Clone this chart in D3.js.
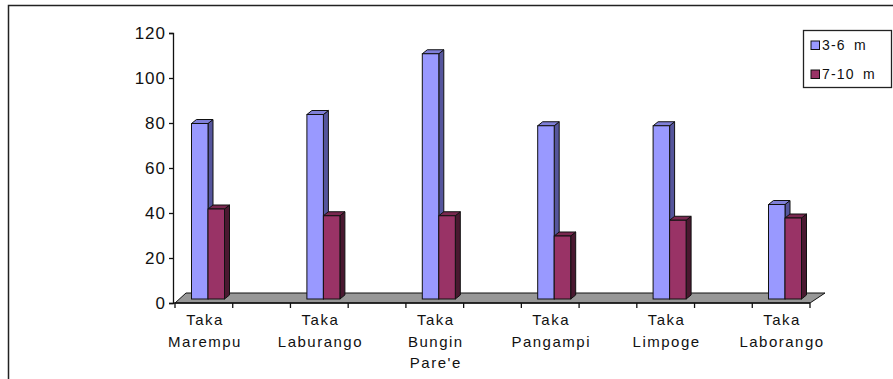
<!DOCTYPE html>
<html>
<head>
<meta charset="utf-8">
<script src="https://cdn.jsdelivr.net/npm/d3@7/dist/d3.min.js"></script>
<style>
  body { margin: 0; background: #fff; }
  svg text { font-family: "Liberation Sans", Arial, sans-serif; fill: #111; }
</style>
</head>
<body>
<svg id="chart" width="893" height="379"></svg>
<script>
var categories = ["Taka Marempu", "Taka Laburango", "Taka Bungin Pare'e", "Taka Pangampi", "Taka Limpoge", "Taka Laborango"];
var labelLines = [["Taka", "Marempu"], ["Taka", "Laburango"], ["Taka", "Bungin", "Pare'e"], ["Taka", "Pangampi"], ["Taka", "Limpoge"], ["Taka", "Laborango"]];
var seriesNames = ["3-6 m", "7-10 m"];
var shallow = [78, 82, 109, 77, 77, 42];
var deep = [40, 37, 37, 28, 35, 36];
var yTicks = [0, 20, 40, 60, 80, 100, 120];

var W = 893, H = 379;
var svg = d3.select('#chart');

var colors = {
  "3-6 m":  { front: '#9999ff', side: '#55559c', top: '#7f7fd8' },
  "7-10 m": { front: '#993366', side: '#4a1830', top: '#7a2850' }
};

// outer frame (runs off the right / bottom edge)
svg.append('rect')
  .attr('x', 8.5).attr('y', 5.5)
  .attr('width', 900).attr('height', 400)
  .attr('fill', 'none').attr('stroke', '#222').attr('stroke-width', 1.5);

var y = d3.scaleLinear().domain([0, 120]).range([303, 33]);
var x = d3.scaleBand().domain(categories).range([150.3, 842.7])
  .paddingInner(0.714).paddingOuter(0.357);
var xs = d3.scaleBand().domain(seriesNames).range([0, x.bandwidth()]);
var tickX = d3.scaleLinear().domain([0, 11]).range([175, 810]);

var dx = 5, dy = -4;       // bar depth
var lift = 4;              // bars sit back in the floor

// floor
svg.append('polygon')
  .attr('points', [[175, y(0)], [810, y(0)], [825, y(0) - 10], [186, y(0) - 10]].join(' '))
  .attr('fill', '#979797').attr('stroke', '#111').attr('stroke-width', 1);

// bars
var data = categories.map(function(c, i) {
  return { cat: c, vals: [{ s: seriesNames[0], v: shallow[i] }, { s: seriesNames[1], v: deep[i] }] };
});

var groups = svg.append('g').attr('class', 'bars')
  .selectAll('g').data(data).enter().append('g');

groups.each(function(d) {
  var g = d3.select(this);
  d.vals.forEach(function(b) {
    var x0 = x(d.cat) + xs(b.s), x1 = x0 + xs.bandwidth();
    var yt = y(b.v) - lift, yb = y(0) - lift;
    var c = colors[b.s];
    g.append('polygon')
      .attr('points', [[x1, yt], [x1 + dx, yt + dy], [x1 + dx, yb + dy], [x1, yb]].join(' '))
      .attr('fill', c.side).attr('stroke', '#111').attr('stroke-width', 1).attr('stroke-linejoin', 'round');
    g.append('polygon')
      .attr('points', [[x0, yt], [x0 + dx, yt + dy], [x1 + dx, yt + dy], [x1, yt]].join(' '))
      .attr('fill', c.top).attr('stroke', '#111').attr('stroke-width', 1).attr('stroke-linejoin', 'round');
    g.append('rect')
      .attr('x', x0).attr('y', yt)
      .attr('width', x1 - x0).attr('height', yb - yt)
      .attr('fill', c.front).attr('stroke', '#111').attr('stroke-width', 1);
  });
});

// y axis
var yAxis = d3.axisLeft(y).tickValues(yTicks).tickSize(4).tickPadding(3);
var ya = svg.append('g').attr('transform', 'translate(173,0)').call(yAxis);
ya.select('.domain').attr('stroke', '#111').attr('stroke-width', 1.3);
ya.selectAll('.tick line').attr('stroke', '#111').attr('stroke-width', 1.3);
ya.selectAll('.tick text')
  .style('font-size', '17px').style('letter-spacing', '1px').attr('dy', '0.35em');

// x axis line and ticks
svg.append('line')
  .attr('x1', 173).attr('x2', 810).attr('y1', y(0)).attr('y2', y(0))
  .attr('stroke', '#111').attr('stroke-width', 1.3);
svg.append('g').selectAll('line').data(d3.range(12)).enter().append('line')
  .attr('x1', function(k) { return tickX(k); })
  .attr('x2', function(k) { return tickX(k); })
  .attr('y1', y(0)).attr('y2', y(0) + 5)
  .attr('stroke', '#111').attr('stroke-width', 1.3);

// category labels
var lab = svg.append('g').selectAll('text').data(categories).enter().append('text')
  .attr('text-anchor', 'middle')
  .style('font-size', '15px').style('letter-spacing', '1.5px')
  .attr('transform', function(c) { return 'translate(' + (x(c) + x.bandwidth() / 2 - 3) + ',325)'; });
lab.each(function(c, i) {
  var t = d3.select(this);
  labelLines[i].forEach(function(line, j) {
    t.append('tspan').attr('x', 0).attr('y', j * 21.5).text(line);
  });
});

// y axis title (clipped as in the original)
svg.append('clipPath').attr('id', 'ytclip')
  .append('rect').attr('x', 90).attr('y', 138).attr('width', 30).attr('height', 112);
svg.append('text')
  .attr('clip-path', 'url(#ytclip)')
  .attr('transform', 'translate(109,248) rotate(-90)')
  .style('font-size', '11px')
  .text('Jumlah Individu/transek');

// legend
var leg = svg.append('g').attr('transform', 'translate(803,30)');
leg.append('rect').attr('x', 0.5).attr('y', 0.5).attr('width', 88).attr('height', 57)
  .attr('fill', '#fff').attr('stroke', '#222').attr('stroke-width', 1.3);
var items = leg.selectAll('g.item').data(seriesNames).enter().append('g')
  .attr('transform', function(d, i) { return 'translate(8,' + (11 + i * 29) + ')'; });
items.append('rect').attr('width', 8.5).attr('height', 8.5)
  .attr('fill', function(d) { return colors[d].front; })
  .attr('stroke', '#111').attr('stroke-width', 1);
items.append('text').attr('x', 11).attr('y', 8.5)
  .style('font-size', '14px').style('letter-spacing', '1.2px').style('word-spacing', '3px')
  .text(function(d) { return d; });
</script>
</body>
</html>
